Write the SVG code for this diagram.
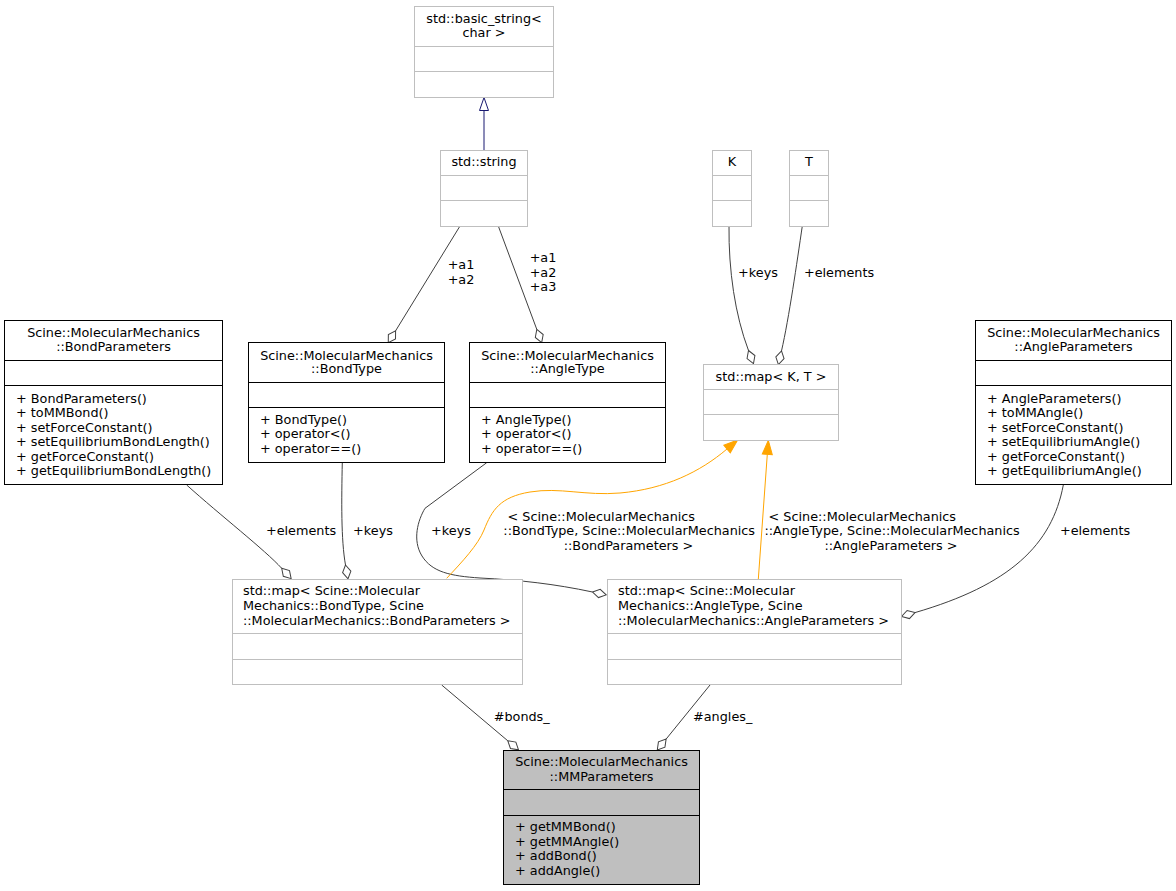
<svg xmlns="http://www.w3.org/2000/svg" width="1176" height="891" viewBox="0 0 1176 891">
<style>
text{font-family:"DejaVu Sans","Liberation Sans",sans-serif;font-size:12.8px;fill:#000}
.c{text-anchor:middle}
.b{fill:#fff;stroke:#000;stroke-width:1}
.x{fill:#fff;stroke:#bfbfbf;stroke-width:1}
.g{fill:#bfbfbf;stroke:#000;stroke-width:1}
.sb{stroke:#000;stroke-width:1}
.sx{stroke:#bfbfbf;stroke-width:1}
.e{fill:none;stroke:#404040;stroke-width:1}
.o{fill:none;stroke:#ffa500;stroke-width:1}
.i{fill:none;stroke:#191970;stroke-width:1}
</style>
<defs>
<marker id="dia" markerUnits="userSpaceOnUse" markerWidth="16" markerHeight="12" viewBox="-1 -6 16 12" refX="0" refY="0" orient="auto"><path d="M0,0 L7,-4.2 L14,0 L7,4.2 Z" fill="#fff" stroke="#404040"/></marker>
<marker id="tri" markerUnits="userSpaceOnUse" markerWidth="16" markerHeight="12" viewBox="-1 -6 16 12" refX="0" refY="0" orient="auto"><path d="M0,-4.5 L13,0 L0,4.5 Z" fill="#fff" stroke="#191970"/></marker>
<marker id="arr" markerUnits="userSpaceOnUse" markerWidth="16" markerHeight="12" viewBox="-1 -6 16 12" refX="0" refY="0" orient="auto"><path d="M0,-5 L14,0 L0,5 Z" fill="#ffa500" stroke="#ffa500"/></marker>
</defs>
<rect width="1176" height="891" fill="#fff"/>

<g id="connectors">
<path class="i" d="M484,150 L484,110.5" marker-end="url(#tri)"/>
<path class="e" d="M460,226 L395.6,330.8" marker-end="url(#dia)"/>
<path class="e" d="M498.3,226 L536.8,329.4" marker-end="url(#dia)"/>
<path class="e" d="M729,226 C728.5,270 735,315 748.5,350.5" marker-end="url(#dia)"/>
<path class="e" d="M802.3,226 C797,262 789,318 781.5,350.9" marker-end="url(#dia)"/>
<path class="e" d="M186.7,485 C220,515 265,550 281.7,568.3" marker-end="url(#dia)"/>
<path class="e" d="M342.3,462.5 C341.5,500 341,540 345.5,565" marker-end="url(#dia)"/>
<path class="e" d="M486.7,462.7 L425,508.3 C418,520 412,540 422,556 C432,572 450,576 480,578 C520,580 555,584 592.5,592" marker-end="url(#dia)"/>
<path class="e" d="M1063.3,485 C1052,545 1010,585 915,612.6" marker-end="url(#dia)"/>
<path class="o" d="M446.7,578.3 C462,562 478,545 484,530 C492,510 500,497 530,492 C560,487 585,496 620,493 C665,489 700,472 727,449" marker-end="url(#arr)"/>
<path class="o" d="M758.3,579.3 L767.3,454.3" marker-end="url(#arr)"/>
<path class="e" d="M441.7,685 L507.8,740.8" marker-end="url(#dia)"/>
<path class="e" d="M710,685 L666.1,739.1" marker-end="url(#dia)"/>
<text class="c" x="461" y="269">+a1</text>
<text class="c" x="461" y="284">+a2</text>
<text class="c" x="543" y="262">+a1</text>
<text class="c" x="543" y="277">+a2</text>
<text class="c" x="543" y="291">+a3</text>
<text class="c" x="758" y="276.5">+keys</text>
<text class="c" x="839" y="277">+elements</text>
<text class="c" x="301" y="535">+elements</text>
<text class="c" x="373" y="534.5">+keys</text>
<text class="c" x="451" y="534.5">+keys</text>
<text class="c" x="1095" y="535">+elements</text>
<text class="c" x="601.3" y="521">&lt; Scine::MolecularMechanics</text>
<text class="c" x="629.2" y="535">::BondType, Scine::MolecularMechanics</text>
<text class="c" x="628.5" y="550">::BondParameters &gt;</text>
<text class="c" x="862.3" y="521">&lt; Scine::MolecularMechanics</text>
<text class="c" x="892.1" y="535">::AngleType, Scine::MolecularMechanics</text>
<text class="c" x="891" y="550">::AngleParameters &gt;</text>
<text class="c" x="521.7" y="721">#bonds_</text>
<text class="c" x="722.7" y="720.5">#angles_</text>
</g>

<g id="basic_string">
<rect class="x" x="414.5" y="6.5" width="139" height="91"/>
<line class="sx" x1="414.5" y1="46.5" x2="553.5" y2="46.5"/>
<line class="sx" x1="414.5" y1="71.5" x2="553.5" y2="71.5"/>
<text class="c" x="484" y="23">std::basic_string&lt;</text>
<text class="c" x="484" y="37">char &gt;</text>
</g>

<g id="std_string">
<rect class="x" x="440.5" y="150.5" width="87" height="76"/>
<line class="sx" x1="440.5" y1="175.5" x2="527.5" y2="175.5"/>
<line class="sx" x1="440.5" y1="200.5" x2="527.5" y2="200.5"/>
<text class="c" x="484" y="166">std::string</text>
</g>

<g id="K">
<rect class="x" x="712.5" y="150.5" width="39" height="76"/>
<line class="sx" x1="712.5" y1="175.5" x2="751.5" y2="175.5"/>
<line class="sx" x1="712.5" y1="200.5" x2="751.5" y2="200.5"/>
<text class="c" x="732" y="166">K</text>
</g>

<g id="T">
<rect class="x" x="789.5" y="150.5" width="39" height="76"/>
<line class="sx" x1="789.5" y1="175.5" x2="828.5" y2="175.5"/>
<line class="sx" x1="789.5" y1="200.5" x2="828.5" y2="200.5"/>
<text class="c" x="809" y="166">T</text>
</g>

<g id="map_KT">
<rect class="x" x="703.5" y="364.5" width="135" height="76"/>
<line class="sx" x1="703.5" y1="389.5" x2="838.5" y2="389.5"/>
<line class="sx" x1="703.5" y1="414.5" x2="838.5" y2="414.5"/>
<text class="c" x="771" y="381">std::map&lt; K, T &gt;</text>
</g>

<g id="BondParameters">
<rect class="b" x="4.5" y="320.5" width="218" height="164"/>
<line class="sb" x1="4.5" y1="360.5" x2="222.5" y2="360.5"/>
<line class="sb" x1="4.5" y1="385.5" x2="222.5" y2="385.5"/>
<text class="c" x="113.5" y="337">Scine::MolecularMechanics</text>
<text class="c" x="113.5" y="350.5">::BondParameters</text>
<text x="16" y="402.5">+ BondParameters()</text>
<text x="16" y="417">+ toMMBond()</text>
<text x="16" y="431.5">+ setForceConstant()</text>
<text x="16" y="446">+ setEquilibriumBondLength()</text>
<text x="16" y="460.5">+ getForceConstant()</text>
<text x="16" y="475">+ getEquilibriumBondLength()</text>
</g>

<g id="BondType">
<rect class="b" x="248.5" y="342.5" width="196" height="120"/>
<line class="sb" x1="248.5" y1="382.5" x2="444.5" y2="382.5"/>
<line class="sb" x1="248.5" y1="407.5" x2="444.5" y2="407.5"/>
<text class="c" x="346.5" y="359.5">Scine::MolecularMechanics</text>
<text class="c" x="346.5" y="373">::BondType</text>
<text x="260" y="423.5">+ BondType()</text>
<text x="260" y="438">+ operator&lt;()</text>
<text x="260" y="452.5">+ operator==()</text>
</g>

<g id="AngleType">
<rect class="b" x="469.5" y="342.5" width="196" height="120"/>
<line class="sb" x1="469.5" y1="382.5" x2="665.5" y2="382.5"/>
<line class="sb" x1="469.5" y1="407.5" x2="665.5" y2="407.5"/>
<text class="c" x="567.5" y="359.5">Scine::MolecularMechanics</text>
<text class="c" x="567.5" y="373">::AngleType</text>
<text x="481" y="423.5">+ AngleType()</text>
<text x="481" y="438">+ operator&lt;()</text>
<text x="481" y="452.5">+ operator==()</text>
</g>

<g id="AngleParameters">
<rect class="b" x="975.5" y="320.5" width="196" height="164"/>
<line class="sb" x1="975.5" y1="360.5" x2="1171.5" y2="360.5"/>
<line class="sb" x1="975.5" y1="385.5" x2="1171.5" y2="385.5"/>
<text class="c" x="1073.5" y="337">Scine::MolecularMechanics</text>
<text class="c" x="1073.5" y="350.5">::AngleParameters</text>
<text x="987" y="402.5">+ AngleParameters()</text>
<text x="987" y="417">+ toMMAngle()</text>
<text x="987" y="431.5">+ setForceConstant()</text>
<text x="987" y="446">+ setEquilibriumAngle()</text>
<text x="987" y="460.5">+ getForceConstant()</text>
<text x="987" y="475">+ getEquilibriumAngle()</text>
</g>

<g id="map_Bond">
<rect class="x" x="232.5" y="579.5" width="290" height="105"/>
<line class="sx" x1="232.5" y1="633.5" x2="522.5" y2="633.5"/>
<line class="sx" x1="232.5" y1="659.5" x2="522.5" y2="659.5"/>
<text x="243" y="595">std::map&lt; Scine::Molecular</text>
<text x="243" y="610">Mechanics::BondType, Scine</text>
<text x="243" y="625">::MolecularMechanics::BondParameters &gt;</text>
</g>

<g id="map_Angle">
<rect class="x" x="607.5" y="579.5" width="294" height="105"/>
<line class="sx" x1="607.5" y1="633.5" x2="901.5" y2="633.5"/>
<line class="sx" x1="607.5" y1="659.5" x2="901.5" y2="659.5"/>
<text x="618" y="595">std::map&lt; Scine::Molecular</text>
<text x="618" y="610">Mechanics::AngleType, Scine</text>
<text x="618" y="625">::MolecularMechanics::AngleParameters &gt;</text>
</g>

<g id="MMParameters">
<rect class="g" x="503.5" y="750.5" width="196" height="134"/>
<line class="sb" x1="503.5" y1="789.5" x2="699.5" y2="789.5"/>
<line class="sb" x1="503.5" y1="815.5" x2="699.5" y2="815.5"/>
<text class="c" x="601.5" y="766">Scine::MolecularMechanics</text>
<text class="c" x="601.5" y="781">::MMParameters</text>
<text x="515" y="831">+ getMMBond()</text>
<text x="515" y="845.5">+ getMMAngle()</text>
<text x="515" y="860">+ addBond()</text>
<text x="515" y="874.5">+ addAngle()</text>
</g>
</svg>
